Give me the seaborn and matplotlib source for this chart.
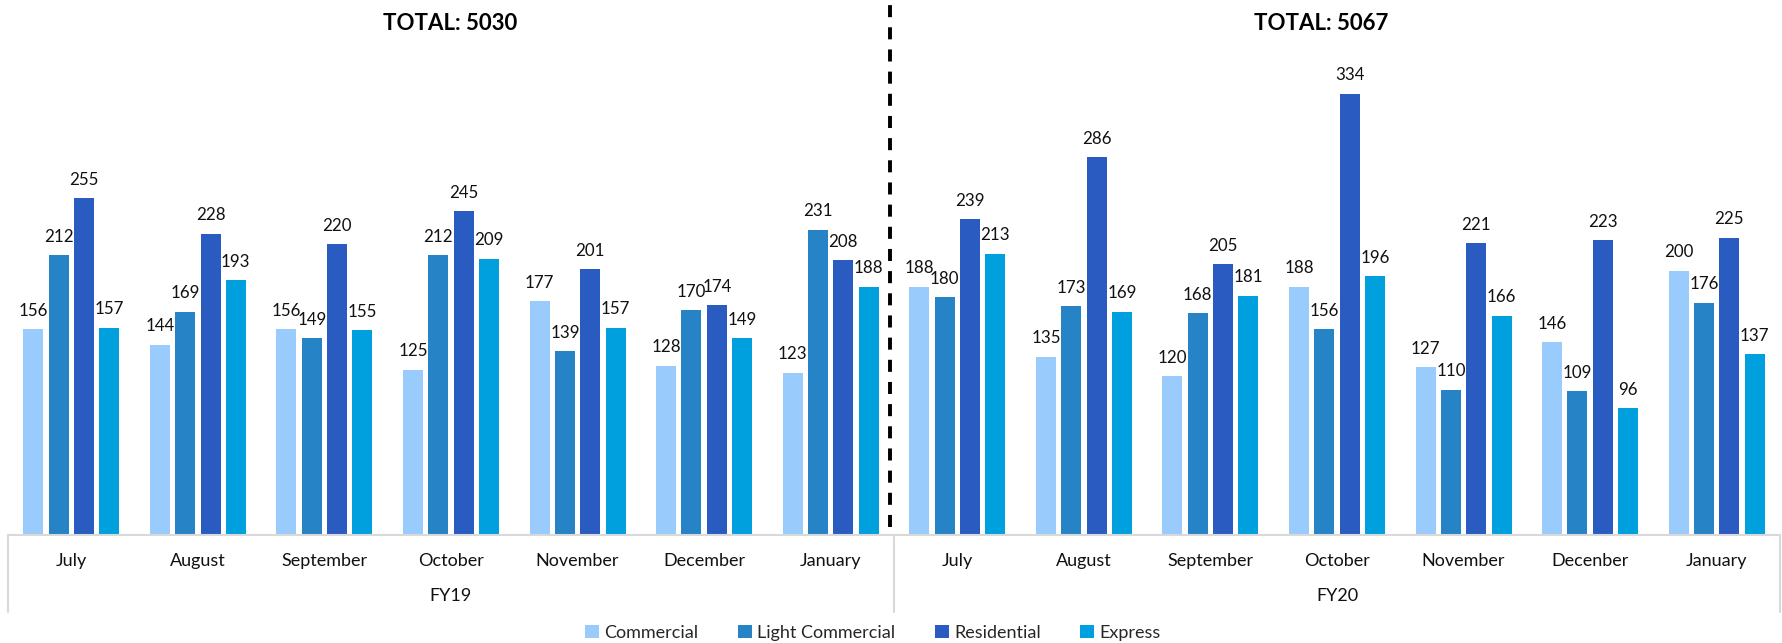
import matplotlib
matplotlib.use("Agg")
import matplotlib.pyplot as plt
import matplotlib.transforms as mtransforms
import seaborn as sns
import pandas as pd

# ---- data ----
months = ["July", "August", "September", "October", "November", "December", "January"]
months_fy20 = ["July", "August", "September", "October", "November", "Decenber", "January"]
years = ["FY19", "FY20"]
series = ["Commercial", "Light Commercial", "Residential", "Express"]

commercial_fy19 = [156, 144, 156, 125, 177, 128, 123]
light_fy19 = [212, 169, 149, 212, 139, 170, 231]
residential_fy19 = [255, 228, 220, 245, 201, 174, 208]
express_fy19 = [157, 193, 155, 209, 157, 149, 188]

commercial_fy20 = [188, 135, 120, 188, 127, 146, 200]
light_fy20 = [180, 173, 168, 156, 110, 109, 176]
residential_fy20 = [239, 286, 205, 334, 221, 223, 225]
express_fy20 = [213, 169, 181, 196, 166, 96, 137]

colors = {"Commercial": "#99CCFD", "Light Commercial": "#2683C6",
          "Residential": "#2A5BC0", "Express": "#00A0DF"}

# ---- long table ----
rows = []
keys = []
tick_labels = []
for yr, mlist, vals in [("FY19", months, [commercial_fy19, light_fy19, residential_fy19, express_fy19]),
                        ("FY20", months_fy20, [commercial_fy20, light_fy20, residential_fy20, express_fy20])]:
    for i, m in enumerate(mlist):
        key = f"{yr} {m}"
        keys.append(key)
        tick_labels.append(m)
        for s, v in zip(series, vals):
            rows.append({"key": key, "series": s, "value": v[i], "year": yr})
df = pd.DataFrame(rows)

sns.set_style("white")
plt.rcParams["font.family"] = ["Lato", "DejaVu Sans"]

W, H = 1783, 643
fig = plt.figure(figsize=(W / 100, H / 100), dpi=100)
ax = fig.add_axes([8 / W, 108 / H, 1772 / W, 535 / H])

sns.barplot(data=df, x="key", y="value", hue="series", order=keys, hue_order=series,
            palette=colors, width=0.8, gap=0.21, linewidth=0, saturation=1,
            errorbar=None, ax=ax)

ax.set_xlim(-0.5, 13.5)
ax.set_ylim(0, 405)

for c in ax.containers:
    ax.bar_label(c, padding=7.5, fontsize=12.2, color="#111111")

# axes styling
for s in ["left", "right", "top"]:
    ax.spines[s].set_visible(False)
ax.spines["bottom"].set_color("#D9D9D9")
ax.spines["bottom"].set_linewidth(1.5)
ax.set_yticks([])
ax.set_xlabel("")
ax.set_ylabel("")
ax.set_xticks(range(len(keys)))
ax.set_xticklabels(tick_labels, fontsize=13, color="#111111")
ax.tick_params(axis="x", length=0, pad=13)

trans = mtransforms.blended_transform_factory(ax.transData, ax.transAxes)
for xs in [-0.5, 6.5, 13.5]:
    ax.plot([xs, xs], [0, -77 / 535], transform=trans, color="#D9D9D9", lw=1.5, clip_on=False)
for j, yr in enumerate(years):
    ax.text(3 + 7 * j, -61 / 535, yr, transform=trans, ha="center", va="center",
            fontsize=13, color="#111111")

# dashed divider
ax.plot([6.47, 6.47], [8 / 535, 1.0], transform=trans, color="black", lw=2.8,
        ls=(0, (3.1, 2.6)), clip_on=False)

# totals
total19 = int(df[df.year == "FY19"].value.sum())
total20 = int(df[df.year == "FY20"].value.sum())
fig.text(450 / W, 1 - 23.5 / H, f"TOTAL: {total19}", ha="center", va="center",
         fontsize=16, fontweight="bold", color="black")
fig.text(1321 / W, 1 - 23.5 / H, f"TOTAL: {total20}", ha="center", va="center",
         fontsize=16, fontweight="bold", color="black")

# legend
handles, labels = ax.get_legend_handles_labels()
if ax.get_legend() is not None:
    ax.get_legend().remove()
fig.legend(handles, labels, loc="center", bbox_to_anchor=(873 / W, 1 - 633 / H), ncol=4,
           frameon=False, fontsize=13, handlelength=0.75, handleheight=0.75,
           handletextpad=0.3, columnspacing=2.2)

fig.savefig("out.png", dpi=100)
